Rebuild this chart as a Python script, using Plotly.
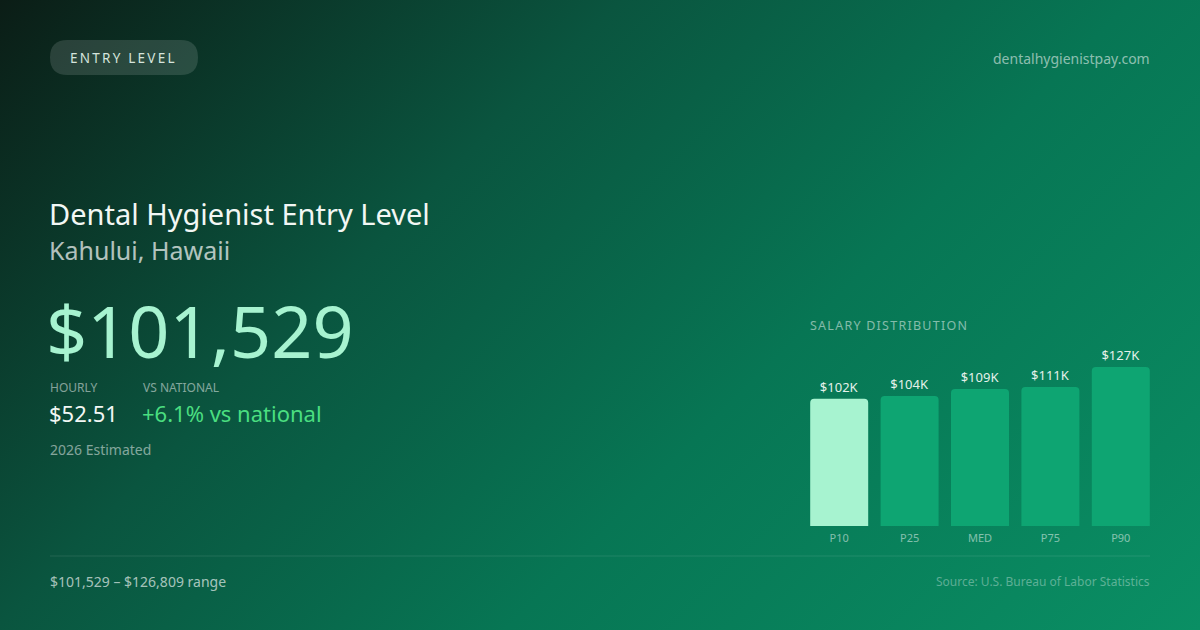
import base64
import plotly.graph_objects as go

# dati della distribuzione salariale
percentili = ["P10", "P25", "MED", "P75", "P90"]
salari = [101529, 103700, 109300, 110900, 126809]
etichette = ["$102K", "$104K", "$109K", "$111K", "$127K"]
colori_barre = ["#a7f3d0", "#0ea572", "#0ea572", "#0ea572", "#0ea572"]

FONT = "Noto Sans"
W, H = 1200, 630


def spaziato(testo, sep="\u200a"):
    # niente letter-spacing in plotly: inserisco spazi sottili tra le lettere
    return sep.join(testo)


# sfondo: gradiente diagonale tipo CSS 135deg
svg = f"""<svg xmlns="http://www.w3.org/2000/svg" width="{W}" height="{H}" viewBox="0 0 {W} {H}" preserveAspectRatio="none">
<defs>
<linearGradient id="g" gradientUnits="userSpaceOnUse" x1="142" y1="-142" x2="1058" y2="772">
<stop offset="0" stop-color="#0b1d16"/>
<stop offset="0.34" stop-color="#0a553f"/>
<stop offset="0.62" stop-color="#077654"/>
<stop offset="1" stop-color="#0a8f64"/>
</linearGradient>
</defs>
<rect width="{W}" height="{H}" fill="url(#g)"/>
</svg>"""
sfondo = "data:image/svg+xml;base64," + base64.b64encode(svg.encode()).decode()

fig = go.Figure()
fig.add_trace(go.Bar(
    x=percentili, y=salari,
    text=etichette, textposition="outside",
    textfont=dict(family=FONT, size=13, color="#e4f1ea"),
    marker=dict(color=colori_barre, line=dict(width=0)),
    cliponaxis=False, hoverinfo="skip",
))


def px(x):
    return x / W


def py(y):
    return 1 - y / H


def testo(x, y, t, size, color, xanchor="left"):
    fig.add_annotation(
        x=px(x), y=py(y), xref="paper", yref="paper", text=t, showarrow=False,
        xanchor=xanchor, yanchor="middle",
        font=dict(family=FONT, size=size, color=color),
    )


# badge a pillola in alto a sinistra (estremi arrotondati con curve Q)
x0, x1, y0, y1, r = 50, 198, 40, 75, 17.5
pill = (f"M {px(x0 + r)},{py(y0)} L {px(x1 - r)},{py(y0)} "
        f"Q {px(x1)},{py(y0)} {px(x1)},{py(y0 + r)} "
        f"Q {px(x1)},{py(y1)} {px(x1 - r)},{py(y1)} "
        f"L {px(x0 + r)},{py(y1)} "
        f"Q {px(x0)},{py(y1)} {px(x0)},{py(y0 + r)} "
        f"Q {px(x0)},{py(y0)} {px(x0 + r)},{py(y0)} Z")
fig.add_shape(type="path", xref="paper", yref="paper", path=pill,
              fillcolor="rgba(255,255,255,0.13)", line=dict(width=0))
testo(123, 58, spaziato("ENTRY LEVEL", "\u2009"), 13.5, "#d5e4dc", xanchor="center")
testo(1152, 58, "dentalhygienistpay.com", 14, "rgba(255,255,255,0.55)", xanchor="right")

# titoli
testo(47, 213, "Dental Hygienist Entry Level", 29, "#f2f7f4")
testo(47, 250, "Kahului, Hawaii", 25, "rgba(255,255,255,0.7)")
testo(44, 330, "$101,529", 72, "#a7f3d0")

testo(48, 387, "HOURLY", 12, "rgba(255,255,255,0.5)")
testo(141, 387, "VS NATIONAL", 12, "rgba(255,255,255,0.5)")
testo(47, 413, "$52.51", 22, "#f2f7f4")
testo(140, 413, "+6.1% vs national", 22, "#4ade80")
testo(48, 449, "2026 Estimated", 14, "rgba(255,255,255,0.5)")

testo(808, 325, spaziato("SALARY DISTRIBUTION"), 12.5, "rgba(255,255,255,0.5)")

# linea separatrice e piè di pagina
fig.add_shape(type="line", xref="paper", yref="paper",
              x0=px(50), x1=px(1150), y0=py(556), y1=py(556),
              line=dict(color="rgba(255,255,255,0.1)", width=1))
testo(48, 581, "$101,529 – $126,809 range", 14, "rgba(255,255,255,0.65)")
testo(1152, 581, "Source: U.S. Bureau of Labor Statistics", 12, "rgba(255,255,255,0.35)", xanchor="right")

fig.update_layout(
    width=W, height=H,
    margin=dict(l=0, r=0, t=0, b=0),
    paper_bgcolor="#0a5a42", plot_bgcolor="rgba(0,0,0,0)",
    showlegend=False,
    bargap=0.176,
    barcornerradius=4,
    font=dict(family=FONT),
    images=[dict(source=sfondo, xref="paper", yref="paper", x=0, y=1,
                 sizex=1, sizey=1, sizing="stretch", layer="below",
                 xanchor="left", yanchor="top")],
    xaxis=dict(domain=[804 / W, 1156 / W], showgrid=False, zeroline=False,
               showline=False, ticks="", ticklabelstandoff=4,
               tickfont=dict(family=FONT, size=11, color="rgba(255,255,255,0.5)"),
               fixedrange=True),
    yaxis=dict(domain=[py(526), py(367)], range=[0, max(salari)],
               visible=False, fixedrange=True),
)

# tolgo il margine di default del body così la figura parte da 0,0
fig.write_html("out.html", config={"displayModeBar": False},
               post_script="document.body.style.margin='0';")
